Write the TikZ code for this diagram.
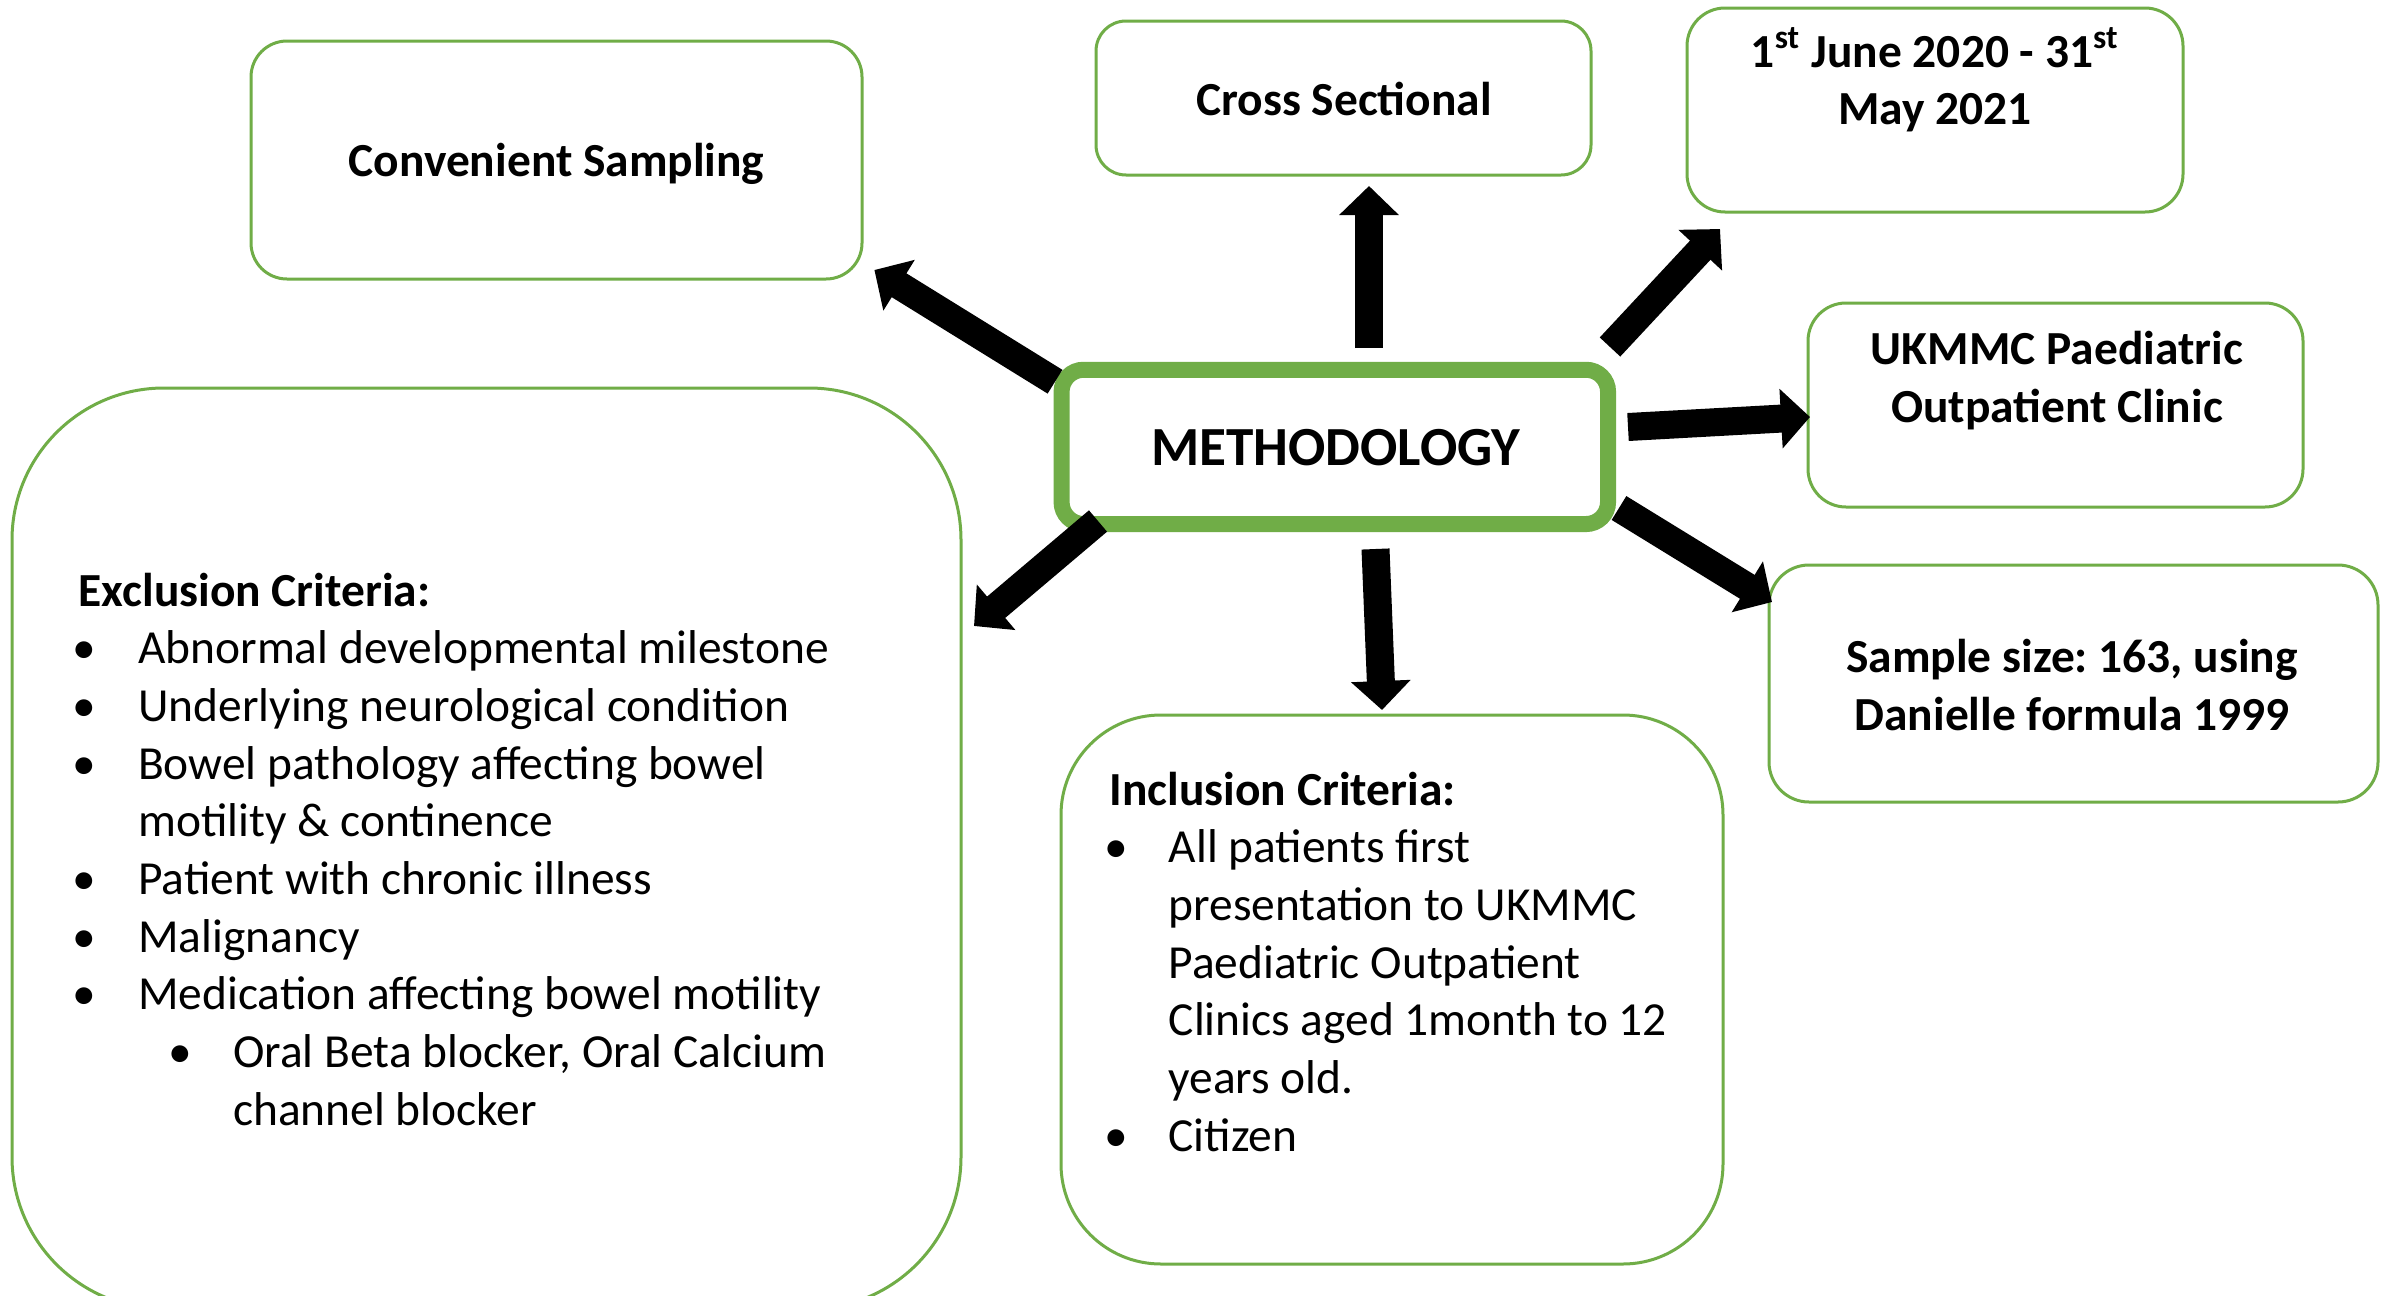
\documentclass[tikz,border=0pt]{standalone}
\usepackage{fontspec}
\setmainfont{Carlito}
\usetikzlibrary{arrows.meta}
\definecolor{boxgreen}{HTML}{70AD47}
\frenchspacing
\newcommand{\bl}[2]{\makebox[#2][l]{\hspace*{#1}\makebox[0pt]{\textbullet}}}
\begin{document}
\begin{tikzpicture}[x=1cm,y=1cm,
  box/.style={draw=boxgreen, line width=0.03cm, rectangle, inner sep=0pt},
  lbl/.style={font=\fontsize{13.5}{16.4}\selectfont\bfseries, align=center, inner sep=0pt, anchor=base},
  body/.style={font=\fontsize{13.5}{16.4}\selectfont, align=left, inner sep=0pt, anchor=base west},
  blockarrow/.style={line width=0.28cm, -{Triangle[length=0.29cm,width=0.58cm]}}
]
\clip (0,0) rectangle (23.87,-12.96);
\fill[white] (0,0) rectangle (23.87,-12.96);

% boxes
\node[box, minimum width=6.11cm, minimum height=2.38cm, rounded corners=0.36cm] (conv) at (5.565,-1.60) {};
\node[box, minimum width=4.95cm, minimum height=1.54cm, rounded corners=0.30cm] (cross) at (13.435,-0.98) {};
\node[box, minimum width=4.96cm, minimum height=2.04cm, rounded corners=0.38cm] (date) at (19.35,-1.10) {};
\node[box, minimum width=4.95cm, minimum height=2.04cm, rounded corners=0.38cm] (ukmmc) at (20.555,-4.05) {};
\node[box, minimum width=6.09cm, minimum height=2.37cm, rounded corners=0.40cm] (sample) at (20.735,-6.835) {};
\node[box, line width=0.16cm, minimum width=5.465cm, minimum height=1.543cm, rounded corners=0.22cm] (method) at (13.348,-4.469) {};
\node[box, minimum width=9.49cm, minimum height=9.21cm, rounded corners=1.52cm] (excl) at (4.865,-8.485) {};
\node[box, minimum width=6.62cm, minimum height=5.49cm, rounded corners=1.0cm] (incl) at (13.92,-9.895) {};

% box texts (base anchor = baseline of the last line)
\node[lbl] (convt) at (5.565,-1.767) {Convenient Sampling};
\node[lbl] (crosst) at (13.44,-1.15) {Cross Sectional};
\node[lbl] (datet) at (19.35,-1.25) {1\textsuperscript{st} June 2020 - 31\textsuperscript{st}\\May 2021};
\node[lbl] (ukmmct) at (20.57,-4.224) {UKMMC Paediatric\\Outpatient Clinic};
\node[lbl] (samplet) at (20.72,-7.30) {Sample size: 163, using\\Danielle formula 1999};
\node[lbl, font=\fontsize{15.7}{19}\selectfont\bfseries] (methodt) at (13.36,-4.65) {METHODOLOGY};

\node[body] (exclt) at (0.78,-11.25) {\textbf{Exclusion Criteria:}\\
\bl{0.06cm}{0.595cm}Abnormal developmental milestone\\
\bl{0.06cm}{0.595cm}Underlying neurological condition\\
\bl{0.06cm}{0.595cm}Bowel pathology affecting bowel\\
\hspace*{0.595cm}motility \& continence\\
\bl{0.06cm}{0.595cm}Patient with chronic illness\\
\bl{0.06cm}{0.595cm}Malignancy\\
\bl{0.06cm}{0.595cm}Medication affecting bowel motility\\
\bl{1.02cm}{1.545cm}Oral Beta blocker, Oral Calcium\\
\hspace*{1.545cm}channel blocker};

\node[body] (inclt) at (11.09,-11.51) {\textbf{Inclusion Criteria:}\\
\bl{0.066cm}{0.59cm}All patients first\\
\hspace*{0.59cm}presentation to UKMMC\\
\hspace*{0.59cm}Paediatric Outpatient\\
\hspace*{0.59cm}Clinics aged 1month to 12\\
\hspace*{0.59cm}years old.\\
\bl{0.066cm}{0.59cm}Citizen};

% arrow ends
\coordinate (upS) at (13.69,-3.48);  \coordinate (upE) at (13.69,-1.86);
\coordinate (ulS) at (10.55,-3.817); \coordinate (ulE) at (8.744,-2.70);
\coordinate (urS) at (16.10,-3.47);  \coordinate (urE) at (17.20,-2.29);
\coordinate (rS) at (16.28,-4.27);   \coordinate (rE) at (18.10,-4.17);
\coordinate (lrS) at (16.19,-5.08);  \coordinate (lrE) at (17.72,-6.02);
\coordinate (dS) at (13.755,-5.49);  \coordinate (dE) at (13.82,-7.10);
\coordinate (llS) at (10.98,-5.21);  \coordinate (llE) at (9.74,-6.26);

\draw[blockarrow] (upS) -- (upE);
\draw[blockarrow] (ulS) -- (ulE);
\draw[blockarrow] (urS) -- (urE);
\draw[blockarrow] (rS) -- (rE);
\draw[blockarrow] (lrS) -- (lrE);
\draw[blockarrow] (dS) -- (dE);
\draw[blockarrow] (llS) -- (llE);
\end{tikzpicture}
\end{document}
